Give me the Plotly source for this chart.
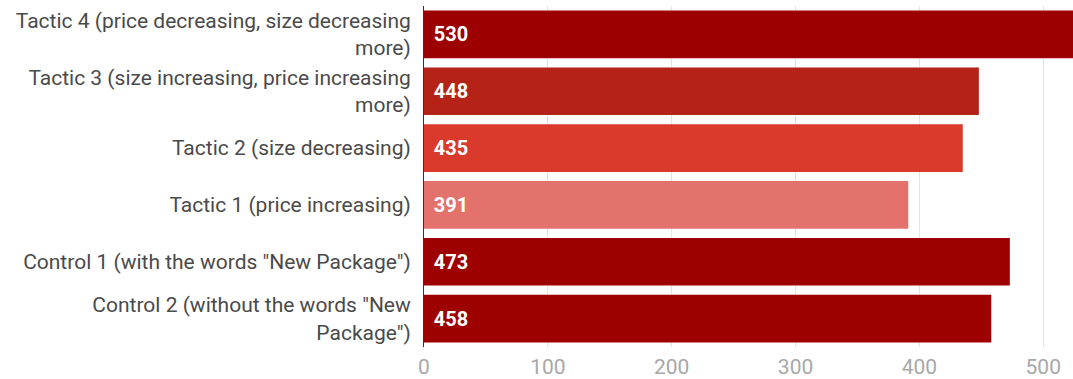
import plotly.graph_objects as go

categories = [
    "Tactic 4 (price decreasing, size decreasing<br>more)",
    "Tactic 3 (size increasing, price increasing<br>more)",
    "Tactic 2 (size decreasing)",
    "Tactic 1 (price increasing)",
    "Control 1 (with the words \"New Package\")",
    "Control 2 (without the words \"New<br>Package\")",
]
values = [530, 448, 435, 391, 473, 458]
bar_colors = ["#9c0000", "#b52318", "#d93a2c", "#e3716c", "#9e0000", "#9e0000"]
tick_vals = [0, 100, 200, 300, 400, 500]

fig = go.Figure(
    go.Bar(
        x=values,
        y=categories,
        orientation="h",
        marker=dict(color=bar_colors, line=dict(width=0)),
        texttemplate="\u2004%{x}",
        textposition="inside",
        insidetextanchor="start",
        textfont=dict(family="Roboto", size=20, color="white", weight="bold"),
        cliponaxis=True,
    )
)

fig.update_layout(
    width=1073,
    height=379,
    margin=dict(l=424, r=0, t=6, b=32),
    paper_bgcolor="white",
    plot_bgcolor="white",
    bargap=0.16,
    showlegend=False,
    font=dict(family="Roboto", size=21, color="#4a4a4a"),
)
fig.update_xaxes(
    range=[0, 524],
    tickvals=tick_vals,
    tickfont=dict(family="Roboto", size=21, color="#a8a8a8"),
    showgrid=True,
    gridcolor="#e3e3e3",
    zeroline=False,
    showline=False,
    ticks="",
    ticklabelstandoff=5,
)
fig.update_yaxes(
    autorange="reversed",
    tickfont=dict(family="Roboto", size=21, color="#4a4a4a"),
    showline=True,
    linecolor="#333333",
    linewidth=1,
    ticks="",
    ticklabelstandoff=8,
)

fig.write_html(
    "out.html",
    config={"displayModeBar": False},
    post_script="document.body.style.margin='0';document.body.style.overflow='hidden';",
)
